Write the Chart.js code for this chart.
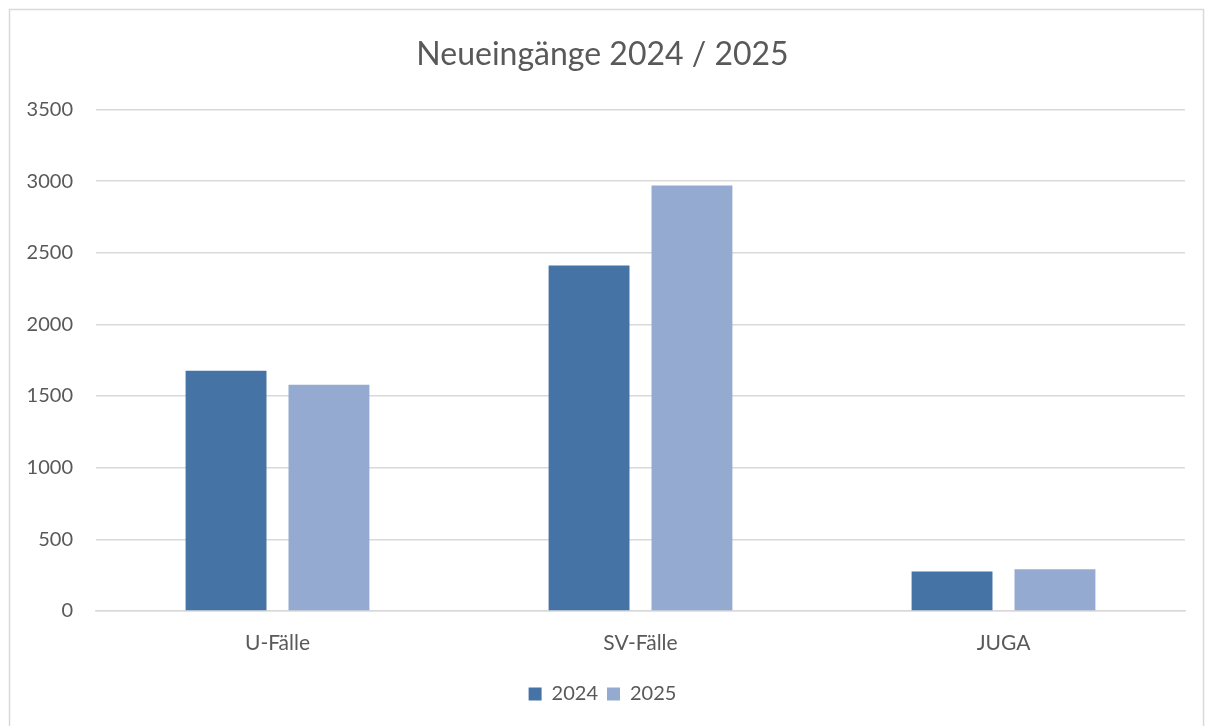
<!DOCTYPE html>
<html>
<head>
<meta charset="utf-8">
<script src="https://cdn.jsdelivr.net/npm/chart.js@4/dist/chart.umd.min.js"></script>
<style>
html,body{margin:0;padding:0;background:#fff;}
#wrap{position:absolute;left:0;top:0;width:1213px;height:726px;}
</style>
</head>
<body>
<div id="wrap"><canvas id="c" width="1213" height="726"></canvas></div>
<script>
const categories = ["U-Fälle", "SV-Fälle", "JUGA"];
const seriesNames = ["2024", "2025"];
const values2024 = [1677, 2410, 275];
const values2025 = [1579, 2969, 291];
const yTicks = [0, 500, 1000, 1500, 2000, 2500, 3000, 3500];

const FONT = "Lato, 'Open Sans', sans-serif";
const TXT = "#595959";

const borderPlugin = {
  id: 'frame',
  beforeDraw(chart) {
    const ctx = chart.ctx;
    ctx.save();
    ctx.fillStyle = '#fff';
    ctx.fillRect(0, 0, chart.width, chart.height);
    ctx.strokeStyle = '#d9d9d9';
    ctx.lineWidth = 1.5;
    ctx.strokeRect(9.5, 9.5, 1194, 730);
    ctx.restore();
  }
};

new Chart(document.getElementById('c'), {
  type: 'bar',
  data: {
    labels: categories,
    datasets: [
      { label: seriesNames[0], data: values2024, backgroundColor: '#4573A6' },
      { label: seriesNames[1], data: values2025, backgroundColor: '#95AAD0' }
    ]
  },
  options: {
    responsive: false,
    animation: false,
    devicePixelRatio: 1,
    categoryPercentage: 0.567,
    barPercentage: 0.786,
    layout: { padding: { left: 20, right: 28, top: 10, bottom: 12 } },
    plugins: {
      tooltip: { enabled: false },
      title: {
        display: true,
        text: 'Neueingänge 2024 / 2025',
        color: TXT,
        font: { family: FONT, size: 32, weight: '400' },
        padding: { top: 25, bottom: 36 }
      },
      legend: {
        position: 'bottom',
        labels: {
          color: TXT,
          font: { family: FONT, size: 20 },
          boxWidth: 13,
          boxHeight: 13,
          padding: 9
        }
      }
    },
    scales: {
      x: {
        grid: { display: false, drawTicks: false },
        border: { display: true, color: '#d9d9d9', width: 1.5 },
        ticks: { color: TXT, font: { family: FONT, size: 21 }, padding: 20 },
        afterFit(s) { s.height = 64; }
      },
      y: {
        min: 0, max: 3500,
        afterBuildTicks(s) { s.ticks = yTicks.map(v => ({ value: v })); },
        grid: { color: '#d9d9d9', lineWidth: 1.5, drawTicks: false },
        border: { display: false },
        ticks: { color: TXT, font: { family: FONT, size: 20 }, padding: 23, callback: v => String(v) },
        afterFit(s) { s.width = 76; }
      }
    }
  },
  plugins: [borderPlugin]
});
</script>
</body>
</html>
